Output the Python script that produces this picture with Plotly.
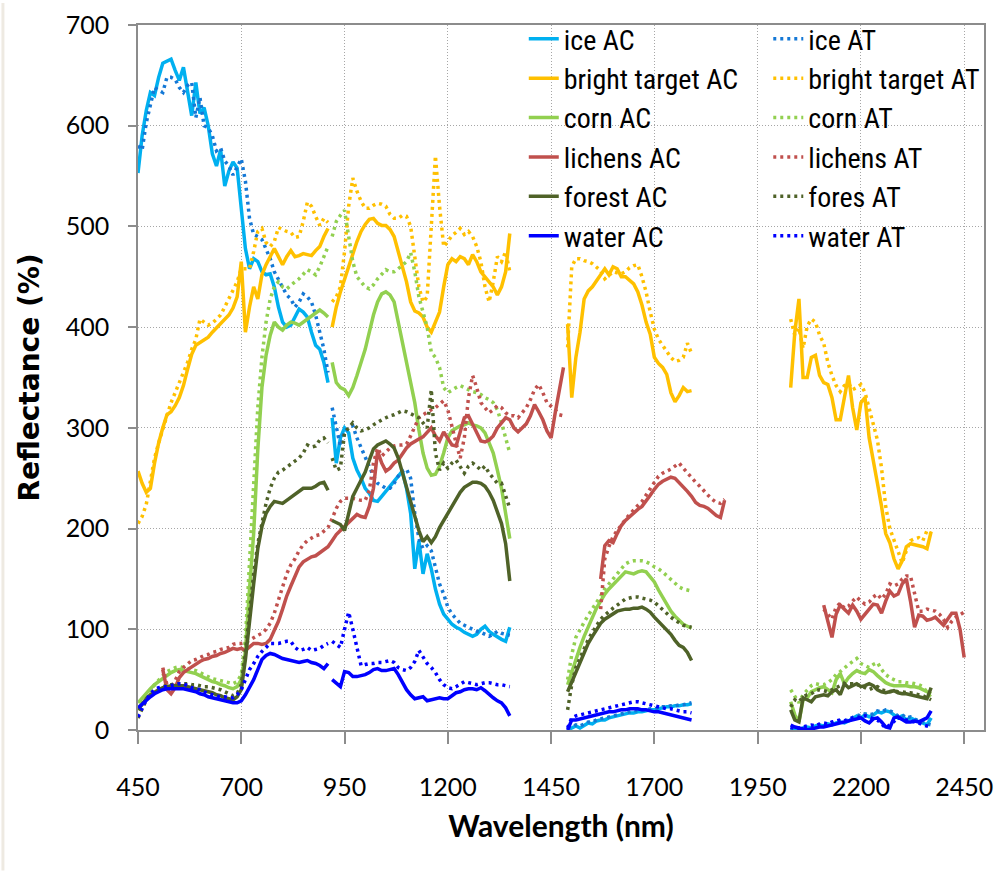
import plotly.graph_objects as go

# ---------------- wavelength grids (nm) ----------------
W1 = [450, 460, 470, 480, 490, 500, 510, 520, 530, 540, 550, 560, 570, 580, 590, 600, 610, 620, 630, 640,
      650, 660, 670, 680, 690, 700, 710, 720, 730, 740, 750, 760, 770, 780, 790, 800, 810, 820, 830, 840,
      850, 860, 870, 880, 890, 900, 910]
W1L = [510, 520, 530, 540, 550, 560, 570, 580, 590, 600, 610, 620, 630, 640, 650, 660, 670, 680, 690, 700,
       710, 720, 730, 740, 750, 760, 770, 780, 790, 800, 810, 820, 830, 840, 850, 860, 870, 880, 890, 900, 910]
W2 = [920, 930, 940, 950, 960, 970, 980, 990, 1000, 1010, 1020, 1030, 1040, 1050, 1060, 1070, 1080, 1090,
      1100, 1110, 1120, 1130, 1140, 1150, 1160, 1170, 1180, 1190, 1200, 1210, 1220, 1230, 1240, 1250, 1260,
      1270, 1280, 1290, 1300, 1310, 1320, 1330, 1340, 1350]
W2L = W2 + [1360, 1370, 1380, 1390, 1400, 1410, 1420, 1430, 1440, 1450, 1460, 1470, 1480]
W3 = [1490, 1500, 1510, 1520, 1530, 1540, 1550, 1560, 1570, 1580, 1590, 1600, 1610, 1620, 1630, 1640, 1650,
      1660, 1670, 1680, 1690, 1700, 1710, 1720, 1730, 1740, 1750, 1760, 1770, 1780, 1790]
W3L = [1570, 1580, 1590, 1600, 1610, 1620, 1630, 1640, 1650, 1660, 1670, 1680, 1690, 1700, 1710, 1720, 1730,
       1740, 1750, 1760, 1770, 1780, 1790, 1800, 1810, 1820, 1830, 1840, 1850, 1860, 1870]
W4 = [2030, 2040, 2050, 2060, 2070, 2080, 2090, 2100, 2110, 2120, 2130, 2140, 2150, 2160, 2170, 2180, 2190,
      2200, 2210, 2220, 2230, 2240, 2250, 2260, 2270, 2280, 2290, 2300, 2310, 2320, 2330, 2340, 2350, 2360, 2370]
W4L = [2110, 2120, 2130, 2140, 2150, 2160, 2170, 2180, 2190, 2200, 2210, 2220, 2230, 2240, 2250, 2260, 2270,
       2280, 2290, 2300, 2310, 2320, 2330, 2340, 2350, 2360, 2370, 2380, 2390, 2400, 2410, 2420, 2430, 2440, 2450]

X_TICKS = [450, 700, 950, 1200, 1450, 1700, 1950, 2200, 2450]
Y_TICKS = [0, 100, 200, 300, 400, 500, 600, 700]

# ---------------- reflectance (%) ----------------
ICE_AC_1 = [553, 590, 615, 633, 630, 648, 662, 664, 666, 655, 645, 658, 635, 610, 643, 612, 618, 600, 572, 560,
            576, 540, 555, 564, 558, 520, 478, 458, 468, 465, 455, 452, 453, 440, 420, 405, 400, 402, 410, 418,
            415, 410, 395, 382, 378, 365, 345]
ICE_AC_2 = [310, 265, 290, 300, 295, 270, 258, 250, 240, 235, 228, 227, 232, 237, 242, 247, 252, 257, 240, 215,
            160, 188, 155, 175, 160, 140, 125, 115, 110, 105, 102, 100, 97, 95, 93, 95, 100, 103, 98, 95,
            92, 90, 88, 102]
ICE_AC_3 = [0, 2, 4, 2, 5, 7, 6, 9, 10, 10, 12, 13, 14, 15, 16, 17, 17, 18, 18, 19, 20, 20, 21, 22, 23, 23, 24,
            24, 25, 25, 26]
ICE_AC_4 = [2, 0, 0, 2, 3, 2, 4, 5, 4, 6, 5, 7, 8, 7, 9, 12, 14, 12, 15, 13, 15, 18, 17, 19, 18, 15, 12, 14, 10,
            12, 10, 8, 7, 5, 12]

ICE_AT_1 = [580, 576, 603, 620, 638, 635, 633, 648, 648, 646, 638, 633, 640, 643, 608, 628, 600, 598, 590, 575,
            578, 565, 560, 551, 560, 567, 545, 508, 492, 490, 487, 478, 468, 455, 447, 440, 432, 428, 420, 425,
            433, 430, 425, 412, 395, 378, 355]
ICE_AT_2 = [320, 300, 282, 297, 300, 302, 290, 280, 270, 262, 252, 245, 242, 240, 240, 245, 252, 257, 259, 250,
            215, 190, 180, 183, 178, 163, 145, 135, 122, 115, 110, 106, 104, 102, 100, 98, 97, 95, 93, 95,
            98, 96, 95, 94]
ICE_AT_3 = [2, 3, 5, 4, 6, 8, 8, 10, 11, 12, 13, 14, 15, 16, 17, 18, 19, 19, 20, 20, 21, 21, 22, 23, 23, 24, 24,
            25, 25, 26, 27]
ICE_AT_4 = [2, 1, 0, 2, 3, 3, 4, 5, 5, 6, 6, 8, 9, 9, 10, 13, 15, 14, 16, 15, 16, 19, 18, 20, 19, 17, 14, 15, 12,
            13, 11, 9, 8, 6, 5]

BRIGHT_AC_1 = [257, 245, 236, 240, 265, 285, 300, 313, 316, 322, 330, 342, 358, 373, 382, 385, 388, 390, 395, 399,
               403, 407, 412, 419, 430, 465, 395, 420, 440, 428, 452, 462, 470, 478, 470, 462, 470, 476, 470, 471,
               473, 472, 471, 476, 480, 490, 498]
BRIGHT_AC_2 = [400, 420, 435, 448, 460, 472, 485, 495, 502, 507, 508, 503, 501, 501, 497, 490, 475, 462, 445, 425,
               416, 414, 410, 400, 395, 405, 415, 440, 462, 468, 465, 470, 468, 462, 472, 465, 455, 450, 445, 440,
               432, 440, 455, 493]
BRIGHT_AC_3 = [403, 330, 370, 395, 428, 436, 440, 446, 452, 458, 452, 460, 458, 450, 450, 447, 443, 435, 422, 405,
               393, 370, 364, 360, 353, 335, 326, 332, 340, 336, 337]
BRIGHT_AC_4 = [340, 395, 428, 350, 350, 370, 372, 352, 345, 343, 330, 308, 308, 330, 352, 320, 298, 325, 330, 290,
               265, 245, 222, 195, 186, 170, 160, 168, 182, 185, 184, 183, 182, 180, 197]

BRIGHT_AT_1 = [205, 212, 224, 248, 270, 285, 300, 312, 325, 335, 345, 355, 365, 378, 388, 408, 405, 402, 404, 408,
               412, 420, 428, 436, 445, 458, 458, 458, 475, 495, 498, 484, 480, 485, 499, 497, 495, 494, 489, 490,
               505, 524, 520, 510, 501, 508, 504]
BRIGHT_AT_2 = [425, 430, 440, 475, 520, 548, 535, 525, 518, 518, 521, 523, 522, 520, 512, 508, 508, 511, 510, 500,
               470, 440, 425, 430, 500, 570, 520, 480, 485, 491, 494, 498, 492, 495, 490, 480, 465, 440, 425, 445,
               470, 465, 475, 455]
BRIGHT_AT_3 = [380, 460, 468, 468, 466, 465, 463, 460, 456, 448, 452, 455, 454, 453, 455, 459, 461, 462, 450, 435,
               415, 398, 388, 382, 375, 370, 366, 367, 370, 384, 374]
BRIGHT_AT_4 = [408, 392, 399, 379, 401, 408, 405, 392, 384, 365, 352, 342, 336, 342, 344, 338, 340, 343, 335, 320,
               305, 288, 260, 222, 200, 188, 176, 166, 178, 188, 190, 191, 188, 198, 195]

CORN_AC_1 = [27, 32, 37, 41, 45, 48, 52, 55, 57, 59, 60, 59, 58, 57, 56, 54, 52, 50, 48, 47, 45, 44, 42, 41, 43,
             50, 78, 140, 195, 278, 340, 372, 392, 405, 400, 397, 402, 405, 404, 402, 405, 408, 412, 415, 417,
             414, 410]
CORN_AC_2 = [365, 345, 340, 338, 332, 340, 352, 365, 378, 395, 412, 425, 433, 435, 432, 425, 405, 385, 365, 345,
             325, 298, 275, 260, 253, 254, 262, 275, 290, 297, 300, 302, 303, 305, 303, 302, 300, 295, 285, 275,
             258, 240, 215, 190]
CORN_AC_3 = [45, 58, 70, 82, 93, 103, 113, 121, 128, 135, 140, 144, 148, 153, 157, 156, 155, 157, 158, 157, 152,
             147, 139, 132, 125, 118, 113, 109, 105, 103, 101]
CORN_AC_4 = [28, 15, 8, 30, 32, 38, 40, 42, 43, 40, 37, 50, 56, 46, 52, 56, 59, 57, 56, 60, 58, 54, 50, 47, 45,
             44, 44, 44, 44, 43, 43, 42, 40, 38, 36]

CORN_AT_1 = [20, 28, 35, 40, 45, 50, 54, 58, 60, 62, 63, 62, 61, 60, 59, 57, 55, 53, 51, 50, 49, 48, 47, 46, 48,
             55, 90, 170, 250, 320, 370, 405, 428, 440, 445, 440, 438, 442, 445, 448, 452, 457, 455, 452, 460,
             470, 480]
CORN_AT_2 = [490, 505, 511, 516, 490, 465, 450, 445, 440, 438, 442, 448, 452, 457, 455, 455, 458, 462, 465, 474,
             455, 430, 415, 400, 375, 370, 360, 340, 335, 338, 340, 342, 340, 338, 336, 335, 333, 330, 328, 325,
             318, 305, 290, 275]
CORN_AT_3 = [50, 75, 92, 100, 107, 114, 120, 127, 133, 140, 145, 150, 155, 160, 165, 167, 168, 168, 168, 167, 165,
             162, 160, 157, 153, 150, 146, 142, 140, 139, 138]
CORN_AT_4 = [40, 33, 27, 35, 40, 44, 46, 45, 45, 47, 50, 55, 58, 62, 65, 68, 71, 66, 64, 62, 65, 67, 60, 55, 52,
             50, 48, 48, 47, 47, 46, 45, 43, 38, 32]

LICHENS_AC_1 = [60, 40, 36, 42, 52, 57, 60, 63, 66, 68, 70, 71, 73, 74, 76, 77, 79, 81, 80, 81, 79, 82, 86, 86,
                85, 86, 90, 99, 108, 120, 133, 143, 153, 162, 167, 170, 172, 173, 176, 179, 182]
LICHENS_AC_2 = [188, 194, 198, 202, 205, 210, 214, 212, 211, 222, 240, 277, 265, 257, 260, 265, 268, 274, 280, 284,
                287, 289, 291, 296, 300, 292, 287, 296, 290, 283, 282, 296, 310, 312, 304, 295, 287, 286, 288, 292,
                300, 305, 310, 308, 300, 296, 300, 304, 312, 323, 316, 308, 297, 290, 315, 340, 360]
LICHENS_AC_3 = [150, 183, 188, 186, 195, 203, 208, 212, 216, 219, 222, 227, 233, 239, 244, 247, 249, 251, 250, 246,
                242, 237, 232, 226, 223, 222, 220, 216, 213, 211, 228]
LICHENS_AC_4 = [124, 108, 92, 115, 124, 120, 116, 124, 118, 110, 115, 119, 125, 124, 116, 128, 138, 133, 135, 145,
                150, 128, 102, 114, 113, 109, 110, 112, 108, 104, 110, 116, 116, 100, 72]

LICHENS_AT_1 = [62, 45, 40, 50, 58, 62, 66, 69, 70, 72, 74, 75, 77, 78, 80, 81, 82, 85, 86, 86, 87, 89, 92, 94,
                96, 100, 106, 116, 129, 142, 155, 164, 170, 178, 184, 188, 191, 193, 194, 197, 201]
LICHENS_AT_2 = [210, 220, 227, 230, 230, 230, 229, 228, 228, 238, 265, 280, 272, 276, 280, 282, 283, 283, 284, 292,
                302, 310, 313, 316, 318, 320, 324, 327, 318, 300, 285, 270, 290, 330, 352, 340, 325, 320, 315, 318,
                322, 320, 315, 312, 312, 310, 315, 320, 328, 338, 343, 335, 325, 322, 318, 313, 312]
LICHENS_AT_3 = [120, 170, 182, 192, 198, 204, 209, 214, 219, 223, 227, 233, 240, 246, 252, 255, 257, 259, 262, 265,
                260, 255, 250, 246, 242, 237, 233, 229, 226, 225, 229]
LICHENS_AT_4 = [120, 115, 110, 122, 126, 121, 123, 128, 132, 128, 125, 127, 132, 135, 130, 135, 145, 143, 145, 150,
                153, 153, 135, 118, 118, 120, 119, 118, 115, 110, 102, 108, 112, 115, 117]

FOREST_AC_1 = [20, 26, 31, 35, 38, 40, 42, 43, 44, 44, 44, 44, 43, 42, 41, 40, 39, 38, 37, 35, 34, 32, 31, 30, 33,
               40, 70, 110, 145, 180, 202, 215, 222, 227, 226, 225, 228, 231, 234, 237, 240, 240, 240, 242, 245,
               246, 238]
FOREST_AC_2 = [208, 206, 204, 198, 215, 232, 240, 248, 256, 268, 279, 283, 285, 287, 284, 280, 270, 255, 240, 225,
               212, 198, 187, 192, 186, 192, 201, 208, 216, 223, 230, 236, 241, 244, 246, 246, 245, 242, 236, 228,
               217, 205, 185, 148]
FOREST_AC_3 = [38, 48, 58, 68, 78, 86, 93, 100, 106, 110, 113, 116, 118, 119, 120, 120, 121, 121, 122, 120, 117,
               112, 108, 104, 100, 95, 89, 84, 82, 77, 69]
FOREST_AC_4 = [20, 10, 8, 32, 30, 28, 33, 34, 35, 34, 38, 40, 35, 46, 42, 44, 46, 43, 44, 46, 44, 40, 38, 37, 38,
               39, 37, 36, 36, 35, 34, 33, 32, 31, 42]

FOREST_AT_1 = [12, 22, 30, 35, 38, 41, 43, 44, 45, 46, 46, 46, 46, 45, 45, 44, 43, 43, 42, 41, 40, 38, 36, 34, 36,
               45, 78, 120, 155, 185, 205, 225, 240, 250, 256, 258, 261, 264, 267, 270, 275, 283, 281, 282, 288,
               290, 285]
FOREST_AT_2 = [270, 258, 260, 295, 300, 305, 300, 297, 298, 300, 303, 306, 308, 310, 312, 313, 315, 317, 316, 314,
               312, 310, 305, 300, 338, 275, 258, 265, 260, 265, 268, 262, 255, 262, 265, 262, 258, 262, 255, 250,
               245, 245, 232, 220]
FOREST_AT_3 = [20, 45, 62, 72, 82, 90, 97, 104, 110, 114, 118, 121, 124, 127, 130, 131, 132, 132, 131, 130, 129,
               127, 123, 119, 115, 112, 109, 106, 104, 103, 102]
FOREST_AT_4 = [23, 30, 28, 33, 35, 36, 39, 40, 39, 38, 40, 42, 44, 46, 46, 46, 45, 44, 42, 40, 42, 43, 40, 39, 38,
               39, 38, 38, 37, 37, 36, 35, 34, 32, 30]

WATER_AC_1 = [22, 26, 30, 33, 36, 38, 40, 41, 41, 41, 41, 41, 40, 39, 38, 36, 35, 33, 32, 31, 30, 29, 28, 27, 27,
              29, 35, 42, 50, 60, 70, 74, 76, 75, 73, 71, 70, 69, 68, 67, 68, 69, 67, 66, 64, 61, 66]
WATER_AC_2 = [50, 46, 43, 58, 57, 53, 53, 54, 55, 57, 60, 61, 59, 59, 60, 61, 55, 47, 40, 35, 31, 32, 33, 29, 30,
              31, 32, 31, 31, 34, 37, 38, 40, 41, 41, 40, 42, 39, 35, 32, 29, 27, 22, 14]
WATER_AC_3 = [0, 10, 10, 11, 12, 13, 14, 15, 16, 17, 18, 18, 19, 20, 20, 21, 21, 21, 20, 20, 19, 18, 18, 17, 16,
              15, 14, 13, 12, 11, 10]
WATER_AC_4 = [5, 3, 2, 1, 0, 1, 2, 3, 3, 4, 5, 6, 7, 8, 9, 10, 11, 12, 9, 7, 11, 12, 8, 3, 2, 12, 13, 10, 8, 8,
              9, 8, 10, 12, 19]

WATER_AT_1 = [13, 22, 30, 36, 40, 42, 43, 43, 44, 45, 46, 46, 44, 42, 41, 40, 38, 36, 35, 34, 33, 33, 32, 32, 35,
              40, 50, 60, 66, 73, 78, 82, 86, 86, 86, 87, 88, 88, 82, 79, 80, 82, 79, 80, 81, 84, 86]
WATER_AT_2 = [88, 85, 82, 100, 117, 100, 80, 64, 65, 66, 66, 67, 67, 68, 69, 67, 62, 60, 59, 62, 68, 79, 72, 66,
              62, 57, 50, 45, 42, 41, 43, 46, 48, 47, 46, 45, 46, 47, 47, 46, 45, 45, 44, 43]
WATER_AT_3 = [2, 12, 14, 15, 16, 17, 18, 19, 20, 21, 22, 23, 24, 25, 26, 27, 28, 28, 27, 26, 25, 24, 23, 22, 21,
              21, 20, 19, 18, 18, 17]
WATER_AT_4 = [3, 1, 2, 3, 4, 5, 4, 6, 7, 6, 8, 9, 10, 9, 11, 12, 13, 12, 14, 13, 11, 10, 6, 2, 5, 9, 12, 11, 10,
              9, 8, 7, 5, 4, 3]

GRIDS = [W1, W2, W3, W4]
GRIDS_LICHENS = [W1L, W2L, W3L, W4L]
BREAKS = [True, True, True]          # gap between segments 1|2, 2|3, 3|4
BREAKS_LICHENS = [False, True, True]  # lichens runs continuously across 910/920 nm

SERIES = [
    ("ice AC", "#00B0F0", "solid", [ICE_AC_1, ICE_AC_2, ICE_AC_3, ICE_AC_4], GRIDS, BREAKS),
    ("ice AT", "#1478D6", "dot", [ICE_AT_1, ICE_AT_2, ICE_AT_3, ICE_AT_4], GRIDS, BREAKS),
    ("bright target AC", "#FFC000", "solid", [BRIGHT_AC_1, BRIGHT_AC_2, BRIGHT_AC_3, BRIGHT_AC_4], GRIDS, BREAKS),
    ("bright target AT", "#FFC000", "dot", [BRIGHT_AT_1, BRIGHT_AT_2, BRIGHT_AT_3, BRIGHT_AT_4], GRIDS, BREAKS),
    ("corn AC", "#92D050", "solid", [CORN_AC_1, CORN_AC_2, CORN_AC_3, CORN_AC_4], GRIDS, BREAKS),
    ("corn AT", "#92D050", "dot", [CORN_AT_1, CORN_AT_2, CORN_AT_3, CORN_AT_4], GRIDS, BREAKS),
    ("lichens AC", "#C0504D", "solid", [LICHENS_AC_1, LICHENS_AC_2, LICHENS_AC_3, LICHENS_AC_4],
     GRIDS_LICHENS, BREAKS_LICHENS),
    ("lichens AT", "#C0504D", "dot", [LICHENS_AT_1, LICHENS_AT_2, LICHENS_AT_3, LICHENS_AT_4],
     GRIDS_LICHENS, BREAKS_LICHENS),
    ("forest AC", "#4F6228", "solid", [FOREST_AC_1, FOREST_AC_2, FOREST_AC_3, FOREST_AC_4], GRIDS, BREAKS),
    ("fores AT", "#4F6228", "dot", [FOREST_AT_1, FOREST_AT_2, FOREST_AT_3, FOREST_AT_4], GRIDS, BREAKS),
    ("water AC", "#0000FF", "solid", [WATER_AC_1, WATER_AC_2, WATER_AC_3, WATER_AC_4], GRIDS, BREAKS),
    ("water AT", "#0000FF", "dot", [WATER_AT_1, WATER_AT_2, WATER_AT_3, WATER_AT_4], GRIDS, BREAKS),
]


def join_segments(grids, segs, breaks):
    xs, ys = [], []
    for i, (g, s) in enumerate(zip(grids, segs)):
        assert len(g) == len(s), (i, len(g), len(s))
        if i and breaks[i - 1]:
            xs.append(None)
            ys.append(None)
        xs.extend(g)
        ys.extend(s)
    return xs, ys


fig = go.Figure()
for name, color, style, segs, grids, breaks in SERIES:
    xs, ys = join_segments(grids, segs, breaks)
    fig.add_trace(go.Scatter(
        x=xs, y=ys, name=name, mode="lines", connectgaps=False,
        legend=("legend" if style == "solid" else "legend2"),
        line=dict(color=color, width=3.5, dash=("solid" if style == "solid" else "3px,4px")),
        hoverinfo="x+y+name",
    ))

AXIS_GRAY = "#8C8C8C"
GRID_GRAY = "#A6A6A6"
TICK_FONT = dict(family="Lato, 'Open Sans', sans-serif", size=25, color="#000000")
LEGEND_FONT = dict(family="'Liberation Sans Narrow', 'Arial Narrow', 'Roboto Condensed', sans-serif",
                   size=28, color="#000000")

fig.update_layout(
    width=1002, height=871,
    margin=dict(l=138, r=9, t=22, b=141),
    paper_bgcolor="#FFFFFF", plot_bgcolor="#FFFFFF",
    showlegend=True,
    legend=dict(orientation="v", x=0.456, y=1.0155, xanchor="left", yanchor="top",
                bgcolor="rgba(0,0,0,0)", borderwidth=0, font=LEGEND_FONT, tracegroupgap=0),
    legend2=dict(orientation="v", x=0.745, y=1.0155, xanchor="left", yanchor="top",
                 bgcolor="rgba(0,0,0,0)", borderwidth=0, font=LEGEND_FONT, tracegroupgap=0),
    xaxis=dict(
        range=[450, 2498], tickmode="array", tickvals=X_TICKS,
        ticktext=[str(v) for v in X_TICKS],
        showline=True, linecolor=AXIS_GRAY, linewidth=1.5, mirror=True,
        ticks="outside", ticklen=12, tickwidth=1.5, tickcolor=AXIS_GRAY,
        showgrid=True, gridcolor=GRID_GRAY, gridwidth=1, griddash="1px,2px",
        zeroline=False, tickfont=TICK_FONT, ticklabelstandoff=22,
        title=dict(text="<b>Wavelength (nm)</b>", standoff=16,
                   font=dict(family="Lato, 'Open Sans', sans-serif", size=30, color="#000000")),
    ),
    yaxis=dict(
        range=[0, 700], tickmode="array", tickvals=Y_TICKS,
        showline=True, linecolor=AXIS_GRAY, linewidth=1.5, mirror=True,
        ticks="outside", ticklen=8, tickwidth=1.5, tickcolor=AXIS_GRAY,
        showgrid=True, gridcolor=GRID_GRAY, gridwidth=1, griddash="1px,2px",
        zeroline=False, tickfont=TICK_FONT, ticklabelstandoff=14,
        title=dict(text="<b>Reflectance (%)</b>", standoff=18,
                   font=dict(family="'DejaVu Sans', Verdana, sans-serif", size=28, color="#000000")),
    ),
    shapes=[dict(type="rect", xref="paper", yref="paper",
                 x0=-138 / 855, x1=-135 / 855, y0=-141 / 708, y1=1 + 22 / 708,
                 fillcolor="#EEEAE2", line=dict(width=0), layer="below")],
)

fig.write_html("out.html", include_plotlyjs=True, full_html=True,
               config={"displayModeBar": False},
               post_script="document.body.style.margin='0';document.body.style.overflow='hidden';")
